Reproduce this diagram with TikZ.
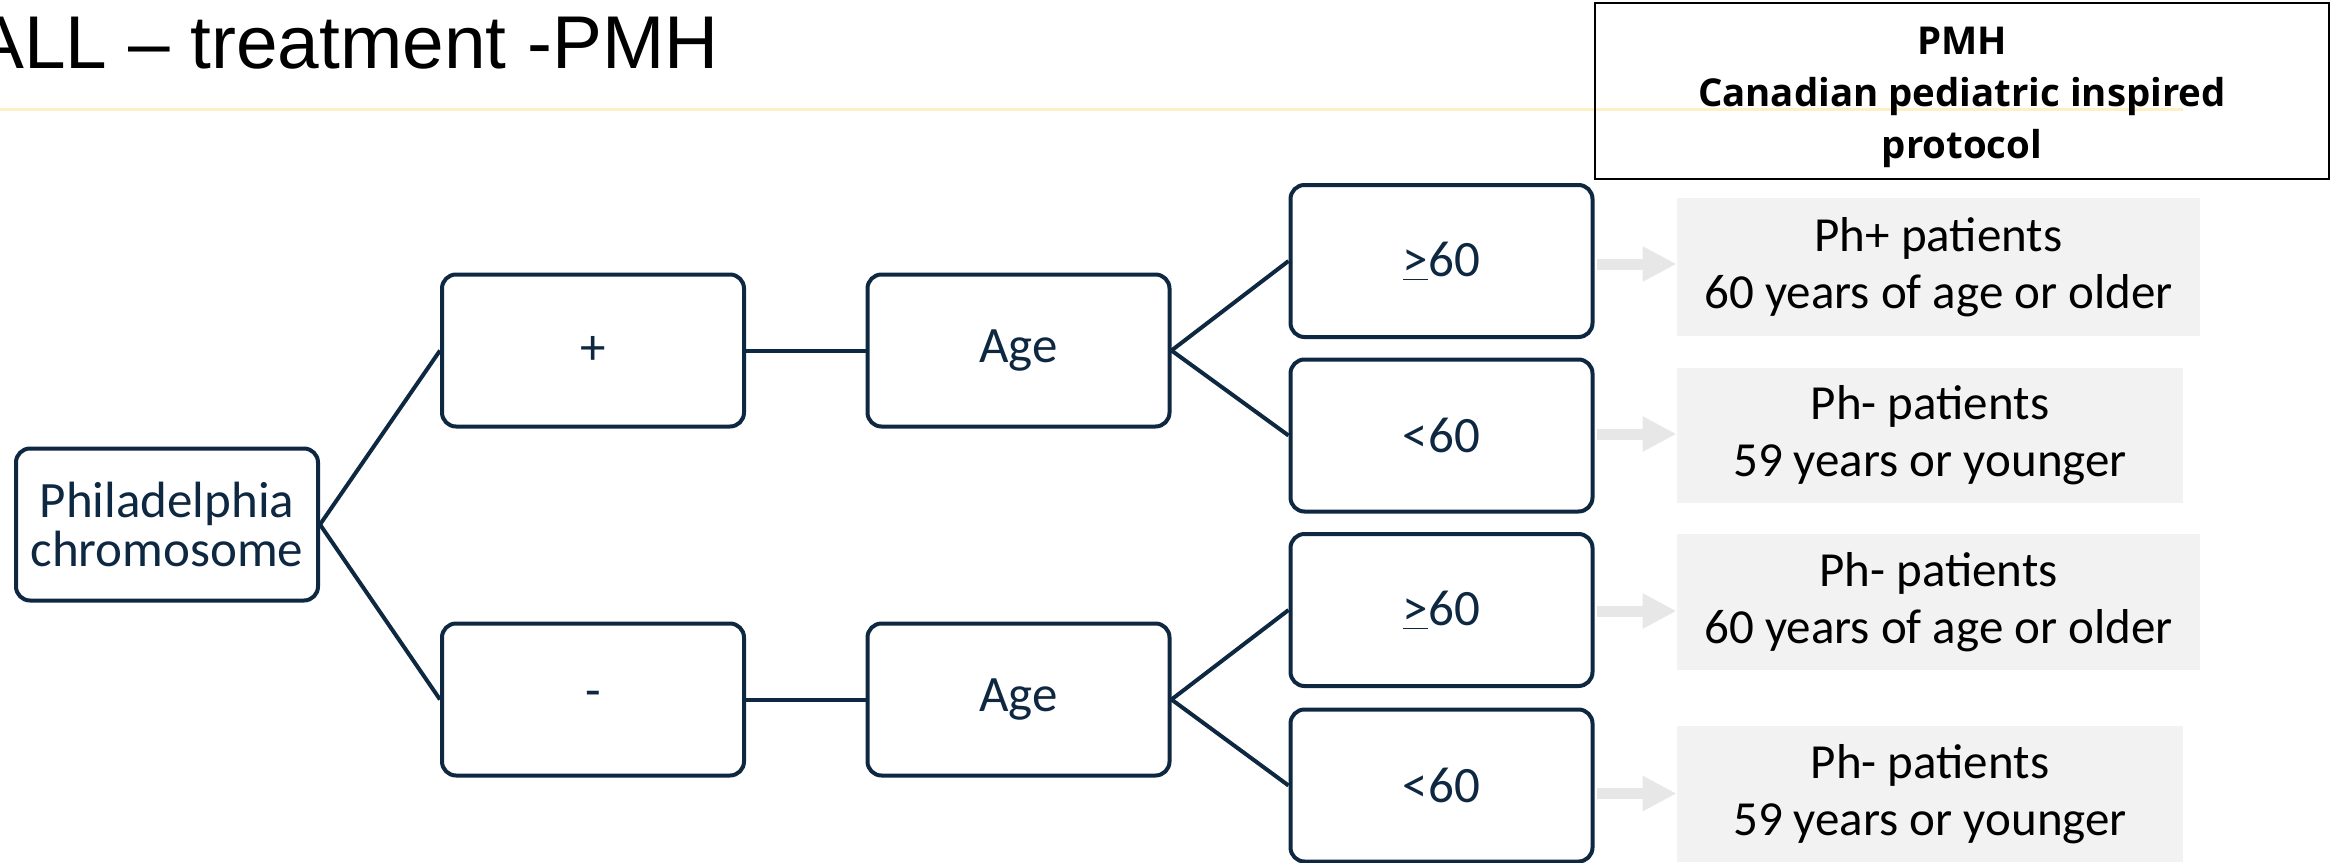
\documentclass[tikz,border=0pt]{standalone}
\usepackage{fontspec}
\setmainfont{Carlito}
\newfontfamily\titlefont{Liberation Sans}
\newfontfamily\headfont{Open Sans}
\usetikzlibrary{arrows.meta}

\definecolor{navy}{HTML}{0E2841}
\definecolor{resultgray}{HTML}{F2F2F2}
\definecolor{arrowgray}{HTML}{E7E7E7}
\definecolor{rulecolor}{HTML}{FCF0C4}

\begin{document}
\begin{tikzpicture}[x=0.5pt,y=-0.5pt,
  choice/.style={draw=navy, line width=2pt, rounded corners=7pt,
    minimum width=151pt, minimum height=76pt, inner sep=0pt,
    text=navy, align=center, font=\fontsize{25.5}{24.5}\selectfont},
  result/.style={fill=resultgray, inner sep=0pt, text=black, align=center,
    font=\fontsize{24.5}{28.5}\selectfont},
  link/.style={draw=navy, line width=2pt},
  garrow/.style={draw=arrowgray, line width=5.5pt,
    -{Triangle[length=17pt,width=16.5pt]}},
]
\useasboundingbox (0,0) rectangle (2339,862);

% title and rule
\node[anchor=base west, inner sep=0pt,
      font=\titlefont\fontsize{37.4}{44}\selectfont] (title) at (-26,68)
  {ALL – treatment -PMH};
\draw[rulecolor, line width=1.5pt] (0,109) -- (2183,109);

% protocol header
\node[draw=black, line width=1.25pt, minimum width=367pt, minimum height=88pt,
      inner sep=0pt, align=center] (pmh) at (1962,91) {};
\node[align=center, inner sep=0pt,
      font=\headfont\bfseries\fontsize{19.2}{26}\selectfont] (pmhtext) at (1962,97)
  {PMH\\Canadian pediatric inspired\\protocol};

% decision tree
\node[choice] (phil)  at (167,524.5) {Philadelphia\\chromosome};
\node[choice] (plus)  at (593,350.5) {+};
\node[choice] (ageA)  at (1018.5,350.5) {Age};
\node[choice] (minus) at (593,699.5) {-};
\node[choice] (ageB)  at (1018.5,699.5) {Age};
\node[choice] (geA)   at (1441.5,261) {\underline{>}60};
\node[choice] (ltA)   at (1441.5,435.5) {<60};
\node[choice] (geB)   at (1441.5,610) {\underline{>}60};
\node[choice] (ltB)   at (1441.5,785.5) {<60};

\draw[link] (phil.east) -- (plus.west);
\draw[link] (phil.east) -- (minus.west);
\draw[link] (plus.east) -- (ageA.west);
\draw[link] (minus.east) -- (ageB.west);
\draw[link] (ageA.east) -- (geA.west);
\draw[link] (ageA.east) -- (ltA.west);
\draw[link] (ageB.east) -- (geB.west);
\draw[link] (ageB.east) -- (ltB.west);

% patient groups
\node[result, minimum width=261.5pt, minimum height=69pt] (g1) at (1938.5,267)
  {Ph+ patients\\60 years of age or older};
\node[result, minimum width=253pt, minimum height=67.5pt] (g2) at (1930,435.5)
  {Ph- patients\\59 years or younger};
\node[result, minimum width=261.5pt, minimum height=68pt] (g3) at (1938.5,602)
  {Ph- patients\\60 years of age or older};
\node[result, minimum width=253pt, minimum height=68pt] (g4) at (1930,794)
  {Ph- patients\\59 years or younger};

\draw[garrow] ([xshift=1pt,yshift=-1.5pt]geA.east) -- ([yshift=-1.5pt]geA.east -| g1.west);
\draw[garrow] ([xshift=1pt,yshift=0.75pt]ltA.east) -- ([yshift=0.75pt]ltA.east -| g2.west);
\draw[garrow] ([xshift=1pt,yshift=-0.5pt]geB.east) -- ([yshift=-0.5pt]geB.east -| g3.west);
\draw[garrow] ([xshift=1pt,yshift=-4pt]ltB.east) -- ([yshift=-4pt]ltB.east -| g4.west);
\end{tikzpicture}
\end{document}
